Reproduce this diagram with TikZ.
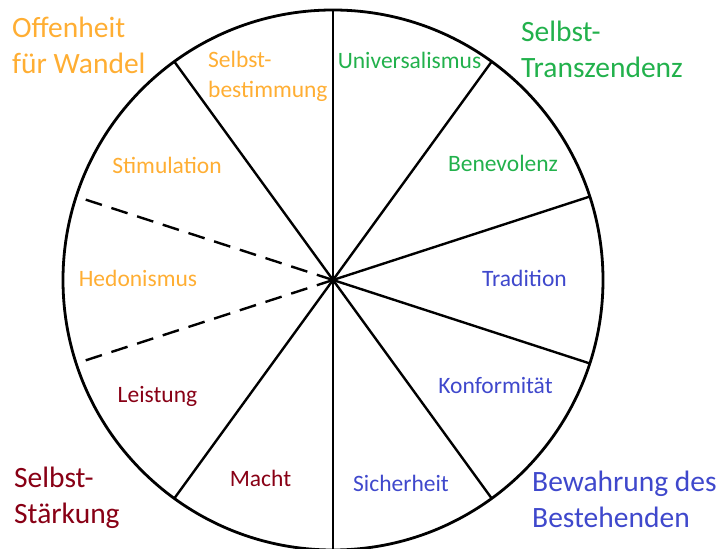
\documentclass[tikz,border=0pt]{standalone}
\usepackage{fontspec}
\setmainfont{Carlito}
\usetikzlibrary{positioning}
\definecolor{offen}{HTML}{FFAE33}
\definecolor{transz}{HTML}{22B14C}
\definecolor{staerk}{HTML}{880015}
\definecolor{bewahr}{HTML}{3F48CC}

\begin{document}
\begin{tikzpicture}[x=1pt, y=1pt,
  value/.style={anchor=base, inner sep=0pt,
    font=\fontsize{23.5}{30}\selectfont},
  group/.style={anchor=base west, align=left, inner sep=0pt,
    font=\fontsize{29.5}{36}\selectfont},
  border/.style={line width=2.8pt},
  spoke/.style={line width=2.4pt},
  dashspoke/.style={spoke, dash pattern=on 17pt off 10pt}]
\useasboundingbox (0,0) rectangle (718,549);
\coordinate (c) at (333,269);
\draw[border] (c) circle[radius=270];
% the ten sectors
\foreach \a in {90,54,18,-18,-54,-90,234,126}
  \draw[spoke] (c) -- ++(\a:270);
\draw[dashspoke] (c) -- ++(162:270);
\draw[dashspoke] (c) -- ++(198:270);
% values
\node[value, transz] (univ) at (409.5,480) {Universalismus};
\node[value, transz] (bene) at (503,377) {Benevolenz};
\node[value, bewahr] (trad) at (524.5,262) {Tradition};
\node[value, bewahr] (konf) at (495.5,155) {Konformität};
\node[value, bewahr] (sich) at (401,57) {Sicherheit};
\node[value, staerk] (macht) at (260.5,62) {Macht};
\node[value, staerk] (leist) at (157.5,146) {Leistung};
\node[value, offen] (hedo) at (138,262) {Hedonismus};
\node[value, offen] (stim) at (167,375) {Stimulation};
\node[value, offen, anchor=base west, align=left] (selbstb) at (208,451)
  {Selbst-\\bestimmung};
% higher-order groups (base = last line)
\node[group, offen] (offen) at (12,475) {Offenheit\\für Wandel};
\node[group, transz] (transz) at (521,471) {Selbst-\\Transzendenz};
\node[group, staerk] (staerk) at (14,25) {Selbst-\\Stärkung};
\node[group, bewahr] (bewahr) at (532,21) {Bewahrung des\\Bestehenden};
\end{tikzpicture}
\end{document}
